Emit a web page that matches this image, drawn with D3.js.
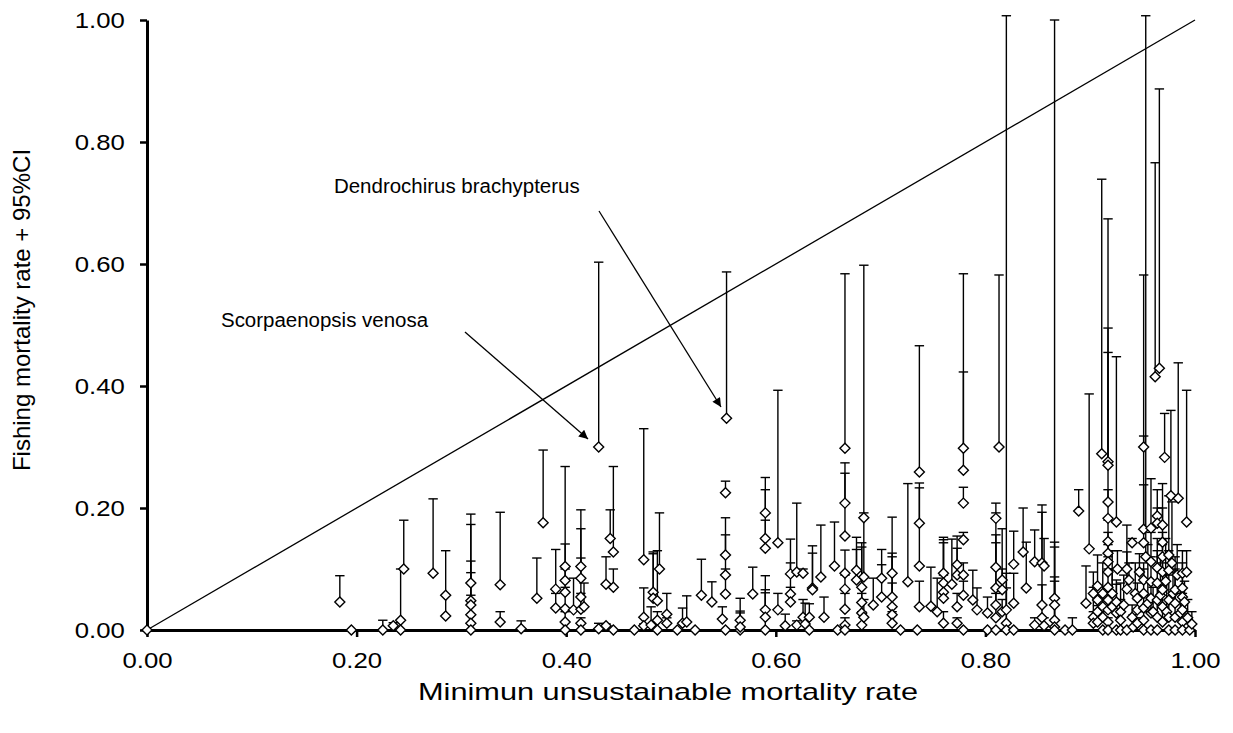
<!DOCTYPE html>
<html>
<head>
<meta charset="utf-8">
<script src="https://cdn.jsdelivr.net/npm/d3@7"></script>
<style>
  body { margin: 0; background: #fff; }
  text { font-family: "Liberation Sans", Arial, sans-serif; fill: #000; }
</style>
</head>
<body>
<svg id="chart"></svg>
<script>
// Each row: [minimum unsustainable mortality rate, fishing mortality rate, upper 95% CI]
var pointsA = [
  [0, 0, 0], [0.184, 0.046, 0.089], [0.195, 0, 0], [0.225, 0, 0.016], [0.235, 0.007, 0.012],
  [0.242, 0.016, 0.100], [0.242, 0, 0], [0.245, 0.100, 0.180], [0.273, 0.093, 0.215],
  [0.285, 0.057, 0.130], [0.285, 0.023, 0.057],
  [0.309, 0.077, 0.190], [0.309, 0.048, 0.173], [0.309, 0.041, 0.113], [0.309, 0.025, 0.094],
  [0.309, 0.011, 0.057], [0.309, 0, 0],
  [0.337, 0.074, 0.193], [0.337, 0.013, 0.030], [0.357, 0.002, 0.015], [0.372, 0.052, 0.118],
  [0.378, 0.176, 0.295], [0.390, 0.067, 0.132], [0.390, 0.036, 0.060],
  [0.399, 0.104, 0.268], [0.399, 0.081, 0.141], [0.399, 0.062, 0.100], [0.399, 0.035, 0.070],
  [0.399, 0.013, 0.030], [0.399, 0, 0], [0.407, 0.033, 0.085],
  [0.414, 0.104, 0.197], [0.414, 0.085, 0.166], [0.414, 0.054, 0.118], [0.414, 0.034, 0.060],
  [0.414, 0.011, 0.020], [0.414, 0, 0], [0.417, 0.038, 0.077],
  [0.431, 0.300, 0.603], [0.431, 0.002, 0.011], [0.438, 0.075, 0.120], [0.438, 0.007, 0.010],
  [0.442, 0.150, 0.197], [0.445, 0.128, 0.268], [0.445, 0.070, 0.100], [0.445, 0, 0],
  [0.465, 0, 0], [0.474, 0.115, 0.330], [0.474, 0.021, 0.069], [0.474, 0.007, 0.010],
  [0.481, 0.008, 0.038], [0.483, 0.062, 0.128], [0.483, 0.052, 0.125],
  [0.487, 0.048, 0.130], [0.487, 0.016, 0.030], [0.487, 0, 0], [0.489, 0.100, 0.192],
  [0.496, 0.026, 0.060], [0.496, 0.011, 0.020]
];

var pointsB = [
  [0.506, 0, 0], [0.511, 0.011, 0.036], [0.515, 0.013, 0.056], [0.523, 0, 0],
  [0.529, 0.057, 0.116], [0.539, 0.046, 0.079], [0.549, 0.018, 0.038],
  [0.552, 0.225, 0.244], [0.552, 0.123, 0.184], [0.552, 0.090, 0.156], [0.552, 0.059, 0.100],
  [0.552, 0, 0], [0.553, 0.347, 0.587],
  [0.566, 0.016, 0.052], [0.566, 0, 0.031], [0.566, 0.005, 0.028], [0.578, 0.059, 0.103],
  [0.590, 0.192, 0.250], [0.590, 0.150, 0.230], [0.590, 0.134, 0.180], [0.590, 0.033, 0.089],
  [0.590, 0.021, 0.066], [0.590, 0, 0.061],
  [0.602, 0.143, 0.393], [0.602, 0.033, 0.060], [0.609, 0.007, 0.026],
  [0.614, 0.092, 0.149], [0.614, 0.059, 0.110], [0.614, 0.046, 0.070],
  [0.620, 0.095, 0.208], [0.620, 0.008, 0.015],
  [0.626, 0.093, 0.100], [0.626, 0.021, 0.050], [0.628, 0.010, 0.044],
  [0.632, 0.021, 0.043], [0.632, 0, 0], [0.635, 0.069, 0.138], [0.635, 0.066, 0.126],
  [0.643, 0.087, 0.172], [0.646, 0.021, 0.054], [0.656, 0.105, 0.177], [0.659, 0, 0],
  [0.666, 0.298, 0.584], [0.666, 0.208, 0.274], [0.666, 0.154, 0.257], [0.666, 0.093, 0.131],
  [0.666, 0.067, 0.090], [0.666, 0.034, 0.060], [0.666, 0.008, 0.020], [0.666, 0, 0],
  [0.677, 0.098, 0.152], [0.677, 0.082, 0.132],
  [0.682, 0.070, 0.143], [0.682, 0.045, 0.136], [0.682, 0.028, 0.060], [0.682, 0.008, 0.030],
  [0.684, 0.184, 0.598], [0.684, 0.087, 0.192], [0.684, 0.021, 0.050],
  [0.693, 0.041, 0.085], [0.701, 0.085, 0.132], [0.701, 0.054, 0.107],
  [0.711, 0.093, 0.185], [0.711, 0.054, 0.126], [0.711, 0.038, 0.120], [0.711, 0.025, 0.077],
  [0.711, 0.011, 0.030], [0.719, 0, 0], [0.726, 0.079, 0.240], [0.735, 0, 0],
  [0.737, 0.259, 0.466], [0.737, 0.175, 0.241], [0.737, 0.105, 0.233], [0.737, 0.038, 0.080],
  [0.748, 0.039, 0.103], [0.754, 0.030, 0.085],
  [0.760, 0.093, 0.152], [0.760, 0.077, 0.148], [0.760, 0.062, 0.143], [0.760, 0.052, 0.090],
  [0.760, 0.011, 0.030], [0.768, 0.075, 0.149],
  [0.773, 0.107, 0.154], [0.773, 0.090, 0.134], [0.773, 0.038, 0.060], [0.773, 0.011, 0.020],
  [0.779, 0.298, 0.584], [0.779, 0.262, 0.423], [0.779, 0.208, 0.234], [0.779, 0.148, 0.160],
  [0.779, 0.090, 0.110], [0.779, 0.057, 0.080], [0.779, 0, 0],
  [0.788, 0.049, 0.098], [0.792, 0.033, 0.069]
];

var pointsC = [
  [0.802, 0.028, 0.054], [0.802, 0, 0],
  [0.810, 0.183, 0.208], [0.810, 0.103, 0.192], [0.810, 0.069, 0.156], [0.810, 0.041, 0.143],
  [0.810, 0.020, 0.060], [0.810, 0, 0], [0.813, 0.300, 0.582],
  [0.816, 0.082, 0.166], [0.816, 0.066, 0.100], [0.816, 0.030, 0.050],
  [0.820, 0.033, 1.007], [0.820, 0.011, 0.093], [0.820, 0, 0.069],
  [0.827, 0.108, 0.162], [0.827, 0.044, 0.093], [0.827, 0, 0],
  [0.836, 0.128, 0.200], [0.839, 0.069, 0.144], [0.847, 0.112, 0.164], [0.847, 0.008, 0.020],
  [0.854, 0.110, 0.205], [0.854, 0.041, 0.193], [0.854, 0.020, 0.074],
  [0.856, 0.105, 0.150], [0.856, 0.007, 0.020],
  [0.866, 0.052, 1.000], [0.866, 0.041, 0.144], [0.866, 0.016, 0.136], [0.866, 0.005, 0.087],
  [0.866, 0, 0.080], [0.876, 0, 0], [0.883, 0, 0.020], [0.889, 0.195, 0.230],
  [0.896, 0.044, 0.105], [0.899, 0.133, 0.387],
  [0.903, 0.060, 0.095], [0.903, 0.021, 0.070], [0.903, 0.011, 0.030],
  [0.907, 0.072, 0.123], [0.907, 0.049, 0.054], [0.907, 0.030, 0.040], [0.907, 0.013, 0.020],
  [0.911, 0.289, 0.739], [0.912, 0.060, 0.110], [0.912, 0.038, 0.060], [0.912, 0.021, 0.030],
  [0.912, 0, 0],
  [0.917, 0.276, 0.674], [0.917, 0.270, 0.495], [0.917, 0.210, 0.455], [0.917, 0.183, 0.230],
  [0.917, 0.145, 0.180], [0.917, 0.126, 0.160], [0.917, 0.112, 0.140], [0.917, 0.095, 0.120],
  [0.917, 0.070, 0.100], [0.917, 0.049, 0.070], [0.917, 0.033, 0.050], [0.917, 0.013, 0.020],
  [0.917, 0, 0], [0.921, 0.060, 0.100], [0.921, 0.038, 0.130],
  [0.925, 0.177, 0.448], [0.925, 0.046, 0.082], [0.925, 0.028, 0.075], [0.925, 0, 0],
  [0.926, 0.100, 0.130],
  [0.929, 0.030, 0.077], [0.929, 0.016, 0.050], [0.929, 0, 0], [0.932, 0.041, 0.090],
  [0.935, 0.100, 0.172], [0.935, 0.067, 0.128], [0.935, 0, 0], [0.937, 0.082, 0.110],
  [0.940, 0.143, 0.150], [0.940, 0.021, 0.041], [0.941, 0.005, 0.025], [0.943, 0.060, 0.110],
  [0.945, 0.052, 0.077], [0.945, 0.033, 0.050], [0.945, 0.011, 0.020], [0.947, 0.095, 0.125],
  [0.951, 0.300, 0.582], [0.951, 0.165, 0.318], [0.951, 0.143, 0.238], [0.951, 0.082, 0.110],
  [0.951, 0.060, 0.100], [0.951, 0.036, 0.060], [0.951, 0.016, 0.030], [0.951, 0, 0],
  [0.953, 0.120, 1.007], [0.955, 0.044, 0.140],
  [0.958, 0.167, 0.248], [0.958, 0.112, 0.160], [0.958, 0.079, 0.120], [0.958, 0.052, 0.080],
  [0.958, 0.028, 0.050], [0.958, 0, 0], [0.960, 0.030, 0.070], [0.962, 0.415, 0.766],
  [0.964, 0.187, 0.230], [0.964, 0.175, 0.200], [0.964, 0.102, 0.150], [0.964, 0.077, 0.130],
  [0.964, 0.049, 0.080], [0.964, 0.021, 0.050], [0.964, 0, 0], [0.966, 0.429, 0.887],
  [0.967, 0.057, 0.120],
  [0.969, 0.172, 0.240], [0.969, 0.144, 0.200], [0.969, 0.120, 0.160], [0.969, 0.095, 0.140],
  [0.969, 0.066, 0.110], [0.969, 0.038, 0.080], [0.969, 0.013, 0.040], [0.971, 0.283, 0.355],
  [0.972, 0.080, 0.150], [0.973, 0.030, 0.100],
  [0.975, 0.123, 0.220], [0.975, 0.098, 0.130], [0.975, 0.049, 0.090], [0.975, 0.021, 0.050],
  [0.975, 0, 0], [0.977, 0.220, 0.360], [0.978, 0.110, 0.210], [0.979, 0.060, 0.095],
  [0.981, 0.066, 0.120], [0.981, 0.044, 0.100], [0.981, 0.021, 0.060], [0.981, 0, 0],
  [0.983, 0.090, 0.140], [0.984, 0.216, 0.438], [0.986, 0.028, 0.070],
  [0.988, 0.093, 0.130], [0.988, 0.069, 0.110], [0.988, 0.054, 0.090], [0.988, 0.033, 0.060],
  [0.988, 0.013, 0.030], [0.988, 0, 0], [0.990, 0.046, 0.080],
  [0.992, 0.177, 0.393], [0.992, 0.095, 0.130], [0.993, 0.020, 0.050], [0.995, 0, 0],
  [0.997, 0.010, 0.030]
];

var xTicks = [0, 0.2, 0.4, 0.6, 0.8, 1.0];
var yTicks = [0, 0.2, 0.4, 0.6, 0.8, 1.0];
var refLine = [[0, 0], [1, 1]]; // F = minimum unsustainable rate

// Labels with arrows, in data units.
var notes = [
  {text: "Scorpaenopsis venosa", tx: 0.0706, ty: 0.497, x1: 0.3034, y1: 0.4885, x2: 0.4208, y2: 0.3131},
  {text: "Dendrochirus brachypterus", tx: 0.1784, ty: 0.7164, x1: 0.4313, y1: 0.6869, x2: 0.5477, y2: 0.3656}
];

var margin = {top: 20, right: 38, bottom: 103, left: 147},
    width = 1233 - margin.left - margin.right,
    height = 733 - margin.top - margin.bottom;

var data = pointsA.concat(pointsB, pointsC);

var xScale = d3.scaleLinear().domain([0, 1]).range([0, width]);
var yScale = d3.scaleLinear().domain([0, 1]).range([height, 0]);

var svg = d3.select("#chart")
    .attr("width", width + margin.left + margin.right)
    .attr("height", height + margin.top + margin.bottom)
  .append("g")
    .attr("transform", "translate(" + margin.left + "," + margin.top + ")");

svg.append("defs").append("marker")
    .attr("id", "arrow")
    .attr("viewBox", "0 0 10 10")
    .attr("refX", 10).attr("refY", 5)
    .attr("markerWidth", 13).attr("markerHeight", 9)
    .attr("markerUnits", "userSpaceOnUse")
    .attr("orient", "auto")
  .append("path")
    .attr("d", "M0,0L10,5L0,10Z")
    .attr("fill", "#000");

// axes
var yAxis = svg.append("g")
    .call(d3.axisLeft(yScale).tickValues(yTicks).tickFormat(d3.format(".2f")).tickSize(7).tickSizeOuter(0));
var xAxis = svg.append("g")
    .attr("transform", "translate(0," + height + ")")
    .call(d3.axisBottom(xScale).tickValues(xTicks).tickFormat(d3.format(".2f")).tickSize(7).tickSizeOuter(0));

[xAxis, yAxis].forEach(function(a) {
  a.select(".domain").attr("stroke", "#000").attr("stroke-width", 3);
  a.selectAll(".tick line").attr("stroke", "#000").attr("stroke-width", 2.5);
  a.selectAll(".tick text")
    .style("font-size", "22px")
    .style("font-family", "'Liberation Sans', Arial, sans-serif")
    .attr("fill", "#000");
});
yAxis.selectAll(".tick text").attr("x", -19).attr("transform", "scale(1.17,1)");
xAxis.selectAll(".tick text").attr("y", 38).attr("dy", 0).attr("transform", "scale(1.17,1)");

// 1:1 line
svg.append("path")
    .datum(refLine)
    .attr("d", d3.line().x(function(d) { return xScale(d[0]); }).y(function(d) { return yScale(d[1]); }))
    .attr("stroke", "#000")
    .attr("stroke-width", 1.3)
    .attr("fill", "none");

// upper error bars
var bars = data.filter(function(d) { return d[2] > d[1]; });
var g = svg.append("g");
g.selectAll(".bar")
    .data(bars)
    .enter()
    .append("line")
    .attr("x1", function(d) { return xScale(d[0]); })
    .attr("x2", function(d) { return xScale(d[0]); })
    .attr("y1", function(d) { return yScale(d[1]); })
    .attr("y2", function(d) { return yScale(d[2]); })
    .attr("stroke", "#000")
    .attr("stroke-width", 1.4);
g.selectAll(".cap")
    .data(bars)
    .enter()
    .append("line")
    .attr("x1", function(d) { return xScale(d[0]) - 4.7; })
    .attr("x2", function(d) { return xScale(d[0]) + 4.7; })
    .attr("y1", function(d) { return yScale(d[2]); })
    .attr("y2", function(d) { return yScale(d[2]); })
    .attr("stroke", "#000")
    .attr("stroke-width", 1.4);

// diamond markers
g.selectAll(".pt")
    .data(data)
    .enter()
    .append("path")
    .attr("d", "M0,-5L5,0L0,5L-5,0Z")
    .attr("transform", function(d) { return "translate(" + xScale(d[0]) + "," + yScale(d[1]) + ")"; })
    .attr("fill", "#fff")
    .attr("stroke", "#000")
    .attr("stroke-width", 1.4);

// annotations
notes.forEach(function(n) {
  svg.append("text")
      .attr("transform", "translate(" + xScale(n.tx) + "," + yScale(n.ty) + ") scale(1.05,1)")
      .style("font-size", "19.5px")
      .text(n.text);
  svg.append("line")
      .attr("x1", xScale(n.x1)).attr("y1", yScale(n.y1))
      .attr("x2", xScale(n.x2)).attr("y2", yScale(n.y2))
      .attr("stroke", "#000")
      .attr("stroke-width", 1.3)
      .attr("marker-end", "url(#arrow)");
});

// axis titles
svg.append("text")
    .attr("transform", "translate(" + (width / 2 - 3) + "," + (height + 70) + ") scale(1.28,1)")
    .style("text-anchor", "middle")
    .style("font-size", "24px")
    .text("Minimun unsustainable mortality rate");

svg.append("text")
    .attr("transform", "translate(" + (30 - margin.left) + "," + 290 + ") rotate(-90)")
    .style("text-anchor", "middle")
    .style("font-size", "24px")
    .text("Fishing mortality rate + 95%CI");
</script>
</body>
</html>
